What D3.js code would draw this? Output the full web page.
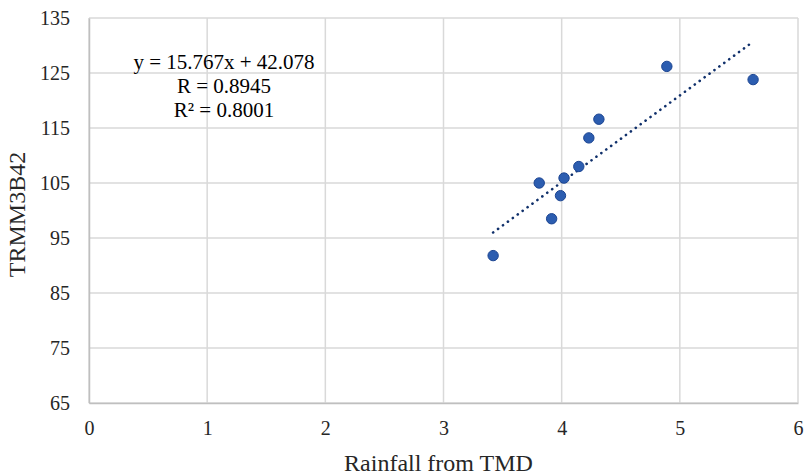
<!DOCTYPE html>
<html>
<head>
<meta charset="utf-8">
<script src="https://cdn.jsdelivr.net/npm/d3@7"></script>
<style>
  html, body { margin: 0; padding: 0; background: #fff; }
  svg { display: block; font-family: "Liberation Serif", "Times New Roman", serif; }
</style>
</head>
<body>
<div id="chart"></div>
<script>
// rainfall from TMD (x) vs TRMM3B42 (y)
const tmdRain = [3.42, 3.81, 3.915, 3.99, 4.02, 4.145, 4.23, 4.315, 4.89, 5.62];
const trmmRain = [91.8, 105.0, 98.5, 102.7, 105.9, 108.0, 113.2, 116.6, 126.2, 123.8];

const xTicks = [0, 1, 2, 3, 4, 5, 6];
const yTicks = [65, 75, 85, 95, 105, 115, 125, 135];

const slope = 15.767, intercept = 42.078;
const eqLines = ['y = 15.767x + 42.078', 'R = 0.8945', 'R\u00b2 = 0.8001'];

const W = 806, H = 475;
const margin = { top: 18, right: 8, bottom: 72, left: 89 };
const w = W - margin.left - margin.right;
const h = H - margin.top - margin.bottom;

const svg = d3.select('#chart').append('svg').attr('width', W).attr('height', H);
const g = svg.append('g').attr('transform', `translate(${margin.left},${margin.top})`);

const x = d3.scaleLinear().domain([0, 6]).range([0, w]);
const y = d3.scaleLinear().domain([65, 135]).range([h, 0]);

// gridlines
g.append('g').selectAll('line').data(yTicks).enter().append('line')
  .attr('x1', 0).attr('x2', w)
  .attr('y1', d => y(d)).attr('y2', d => y(d))
  .attr('stroke', '#d9d9d9').attr('stroke-width', 1.5);
g.append('g').selectAll('line').data(xTicks).enter().append('line')
  .attr('x1', d => x(d)).attr('x2', d => x(d))
  .attr('y1', 0).attr('y2', h)
  .attr('stroke', '#d9d9d9').attr('stroke-width', 1.5);

// axes
const xAxis = g.append('g').attr('transform', `translate(0,${h})`)
  .call(d3.axisBottom(x).tickValues(xTicks).tickFormat(d3.format('d')).tickSize(0).tickPadding(18));
const yAxis = g.append('g')
  .call(d3.axisLeft(y).tickValues(yTicks).tickFormat(d3.format('d')).tickSize(0).tickPadding(19));
[xAxis, yAxis].forEach(a => {
  a.select('.domain').attr('stroke', '#bfbfbf').attr('stroke-width', 1.5);
  a.selectAll('text').attr('font-family', '"Liberation Serif", "Times New Roman", serif')
    .attr('font-size', 20).attr('fill', '#262626');
});

// trendline over the data range
const xExt = d3.extent(tmdRain);
g.append('line')
  .attr('x1', x(xExt[0])).attr('y1', y(slope * xExt[0] + intercept))
  .attr('x2', x(xExt[1])).attr('y2', y(slope * xExt[1] + intercept))
  .attr('stroke', '#10306b').attr('stroke-width', 2.6)
  .attr('stroke-linecap', 'round').attr('stroke-dasharray', '0.1 6');

// points
const pts = tmdRain.map((v, i) => ({ x: v, y: trmmRain[i] }));
g.selectAll('circle.pt').data(pts).enter().append('circle')
  .attr('class', 'pt')
  .attr('cx', d => x(d.x)).attr('cy', d => y(d.y))
  .attr('r', 5.2)
  .attr('fill', '#2c5db0').attr('stroke', '#1c4592').attr('stroke-width', 1);

// equation label
svg.append('text')
  .attr('x', 224).attr('y', 69)
  .attr('text-anchor', 'middle').attr('font-size', 21).attr('fill', '#000')
  .selectAll('tspan').data(eqLines).enter().append('tspan')
  .attr('x', 224).attr('dy', (d, i) => i === 0 ? 0 : 24)
  .text(d => d);

// axis titles
svg.append('text')
  .attr('x', margin.left + w / 2 - 5).attr('y', 471)
  .attr('text-anchor', 'middle').attr('font-size', 24).attr('fill', '#262626')
  .text('Rainfall from TMD');
svg.append('text')
  .attr('transform', `translate(25,${margin.top + h / 2 + 4}) rotate(-90)`)
  .attr('text-anchor', 'middle').attr('font-size', 24).attr('fill', '#262626')
  .text('TRMM3B42');
</script>
</body>
</html>
